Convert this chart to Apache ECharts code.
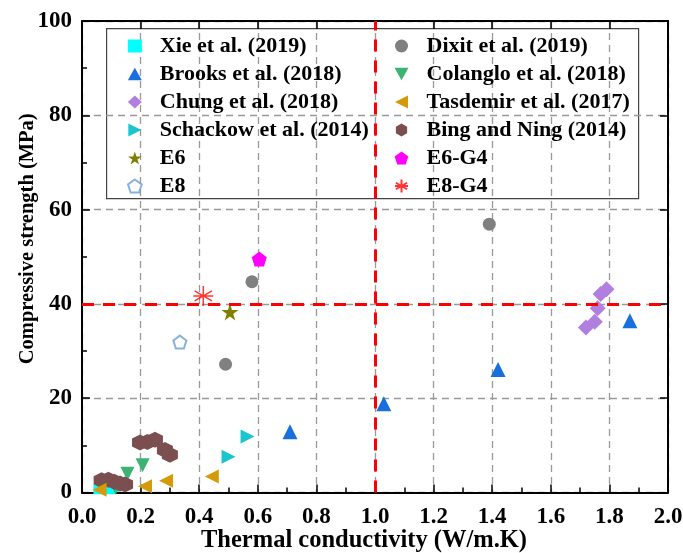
<!DOCTYPE html>
<html>
<head>
<meta charset="utf-8">
<script src="https://cdn.jsdelivr.net/npm/echarts@6/dist/echarts.min.js"></script>
<style>
  html, body { margin: 0; padding: 0; background: #fff; }
  #main { width: 683px; height: 553px; }
</style>
</head>
<body>
<div id="main"></div>
<script>
// data: [thermal conductivity, compressive strength]
var xie      = [[0.056, 0.7], [0.096, 0.7], [0.11, 1.2]];
var dixit    = [[0.49, 27.2], [0.58, 44.7], [1.39, 56.9]];
var brooks   = [[0.71, 12.9], [1.03, 18.8], [1.42, 26.1], [1.87, 36.4]];
var colanglo = [[0.115, 1.0], [0.155, 4.0], [0.207, 5.8]];
var chung    = [[1.72, 35.0], [1.75, 36.2], [1.76, 39.1], [1.77, 42.1], [1.79, 43.1]];
var tasdemir = [[0.06, 0.6], [0.215, 1.3], [0.287, 2.5], [0.443, 3.4]];
var schackow = [[0.12, 2.6], [0.50, 7.6], [0.565, 11.9]];
var bing     = [[0.067, 2.6], [0.09, 2.7], [0.11, 2.3], [0.13, 1.9], [0.147, 1.7],
                [0.198, 10.6], [0.223, 10.7], [0.249, 11.2], [0.283, 9.0], [0.30, 8.0]];
var e6   = [[0.505, 38.3]];
var e8   = [[0.334, 31.9]];
var e6g4 = [[0.605, 49.5]];
var e8g4 = [[0.414, 41.7]];

var legendLeft  = ['Xie et al. (2019)', 'Brooks et al. (2018)', 'Chung et al. (2018)', 'Schackow et al. (2014)', 'E6', 'E8'];
var legendRight = ['Dixit et al. (2019)', 'Colanglo et al. (2018)', 'Tasdemir et al. (2017)', 'Bing and Ning (2014)', 'E6-G4', 'E8-G4'];

var refX = 1.0, refY = 40;   // red reference lines

// symbols
var triLeft  = 'path://M0,5 L10,0 L10,10 Z';
var triRight = 'path://M10,5 L0,0 L0,10 Z';
var triDown  = 'path://M0,0 L10,0 L5,9 Z';
var triUp    = 'path://M5,0 L10,9 L0,9 Z';
var hexagon  = 'path://M5,0 L9.33,2.5 L9.33,7.5 L5,10 L0.67,7.5 L0.67,2.5 Z';
var pentagon = 'path://M5,0 L9.76,3.45 L7.94,9.05 L2.06,9.05 L0.24,3.45 Z';
var star     = 'path://M5,0 L6.18,3.6 L9.95,3.6 L6.9,5.82 L8.07,9.41 L5,7.2 L1.93,9.41 L3.1,5.82 L0.05,3.6 L3.82,3.6 Z';
var asterisk = 'path://M5,0 L5,10 M0.67,2.5 L9.33,7.5 M0.67,7.5 L9.33,2.5 M0,5 L10,5';

var font = 'Liberation Serif';

var myChart = echarts.init(document.getElementById('main'), null, {renderer: 'canvas'});

function axisCommon(pos, showLabel) {
    return {
        type: 'value',
        position: pos,
        min: 0,
        axisLine: {show: true, onZero: false, lineStyle: {color: '#000', width: 2}},
        axisTick: {show: true, inside: true, length: 8, lineStyle: {color: '#000', width: 1.5}},
        axisLabel: {show: showLabel},
        splitLine: {show: false}
    };
}

var xBottom = axisCommon('bottom', true);
xBottom.max = 2; xBottom.interval = 0.2;
xBottom.minorTick = {show: true, splitNumber: 2, length: 5, lineStyle: {color: '#000', width: 1.5}};
xBottom.axisLabel = {
    show: true, margin: 13, color: '#000', fontFamily: font, fontWeight: 'bold', fontSize: 23,
    formatter: function (v) { return v.toFixed(1); }
};
xBottom.splitLine = {show: true, lineStyle: {color: '#999', type: [7, 5], width: 1.3}};
xBottom.name = 'Thermal conductivity (W/m.K)';
xBottom.nameLocation = 'middle';
xBottom.nameMoveOverlap = false;
xBottom.nameGap = 36;
xBottom.nameTextStyle = {color: '#000', fontFamily: font, fontWeight: 'bold', fontSize: 24.5, padding: [0, 22, 0, 0]};

var xTop = axisCommon('top', false);
xTop.max = 2; xTop.interval = 0.2;

var yLeft = axisCommon('left', true);
yLeft.max = 100; yLeft.interval = 20;
yLeft.minorTick = {show: true, splitNumber: 2, length: 5, lineStyle: {color: '#000', width: 1.5}};
yLeft.axisLabel = {show: true, margin: 10, color: '#000', fontFamily: font, fontWeight: 'bold', fontSize: 23};
yLeft.splitLine = {show: true, lineStyle: {color: '#999', type: [7, 5], width: 1.3}};
yLeft.name = 'Compressive strength (MPa)';
yLeft.nameLocation = 'middle';
yLeft.nameMoveOverlap = false;
yLeft.nameGap = 44;
yLeft.nameTextStyle = {color: '#000', fontFamily: font, fontWeight: 'bold', fontSize: 20.5, padding: [0, 0, 0, 36]};

var yRight = axisCommon('right', false);
yRight.max = 100; yRight.interval = 20;

function sc(name, data, symbol, size, color, extra) {
    var s = {
        name: name,
        type: 'scatter',
        xAxisIndex: 0,
        yAxisIndex: 0,
        data: data,
        symbol: symbol,
        symbolSize: size,
        itemStyle: {color: color, opacity: 1},
        emphasis: {disabled: true},
        z: 3
    };
    if (extra) { s.itemStyle = extra; }
    return s;
}

var option = {
    backgroundColor: '#fff',
    animation: false,
    grid: {left: 82, right: 15, top: 21, bottom: 60.5, containLabel: false, outerBoundsMode: 'none'},
    xAxis: [xBottom, xTop],
    yAxis: [yLeft, yRight],
    legend: [
        {
            data: legendLeft, orient: 'vertical', left: 122, top: 30,
            itemWidth: 14, itemHeight: 13, itemGap: 6,
            textStyle: {color: '#000', fontFamily: font, fontWeight: 'bold', fontSize: 22, lineHeight: 22, padding: [0, 0, 0, 13]}
        },
        {
            data: legendRight, orient: 'vertical', left: 389, top: 30,
            itemWidth: 14, itemHeight: 13, itemGap: 6,
            textStyle: {color: '#000', fontFamily: font, fontWeight: 'bold', fontSize: 22, lineHeight: 22, padding: [0, 0, 0, 13]}
        }
    ],
    graphic: [{
        type: 'rect', left: 106, top: 28, z: 0,
        shape: {width: 532, height: 170},
        style: {fill: '#fff', stroke: '#444', lineWidth: 1.2}
    }],
    series: [
        {
            name: 'ref', type: 'scatter', data: [], z: 2, silent: true,
            markLine: {
                silent: true, symbol: 'none', label: {show: false},
                lineStyle: {color: '#ff0000', type: [12, 9], width: 3},
                data: [{xAxis: refX}, {yAxis: refY}]
            }
        },
        sc('Xie et al. (2019)', xie, 'rect', 10, '#00ffff'),
        sc('Schackow et al. (2014)', schackow, triRight, 14, '#1ac6cc'),
        sc('Colanglo et al. (2018)', colanglo, triDown, 14, '#3cb371'),
        sc('Bing and Ning (2014)', bing, hexagon, 16, '#7b4f4f'),
        sc('Tasdemir et al. (2017)', tasdemir, triLeft, 14, '#d49a0a'),
        sc('Dixit et al. (2019)', dixit, 'circle', 13, '#808080'),
        sc('Brooks et al. (2018)', brooks, triUp, 15, '#1a6fdf'),
        sc('Chung et al. (2018)', chung, 'diamond', 16, '#b07fe0'),
        sc('E6', e6, star, 17, '#808000'),
        sc('E8', e8, pentagon, 13, null, {color: '#fff', borderColor: '#6a9fd4', borderWidth: 2}),
        sc('E6-G4', e6g4, pentagon, 15, '#ff00ff'),
        sc('E8-G4', e8g4, asterisk, 20, null, {color: 'rgba(0,0,0,0)', borderColor: '#ff0000', borderWidth: 1.5})
    ]
};

if (option && typeof option === "object") {
    myChart.setOption(option, true);
}
</script>
</body>
</html>
